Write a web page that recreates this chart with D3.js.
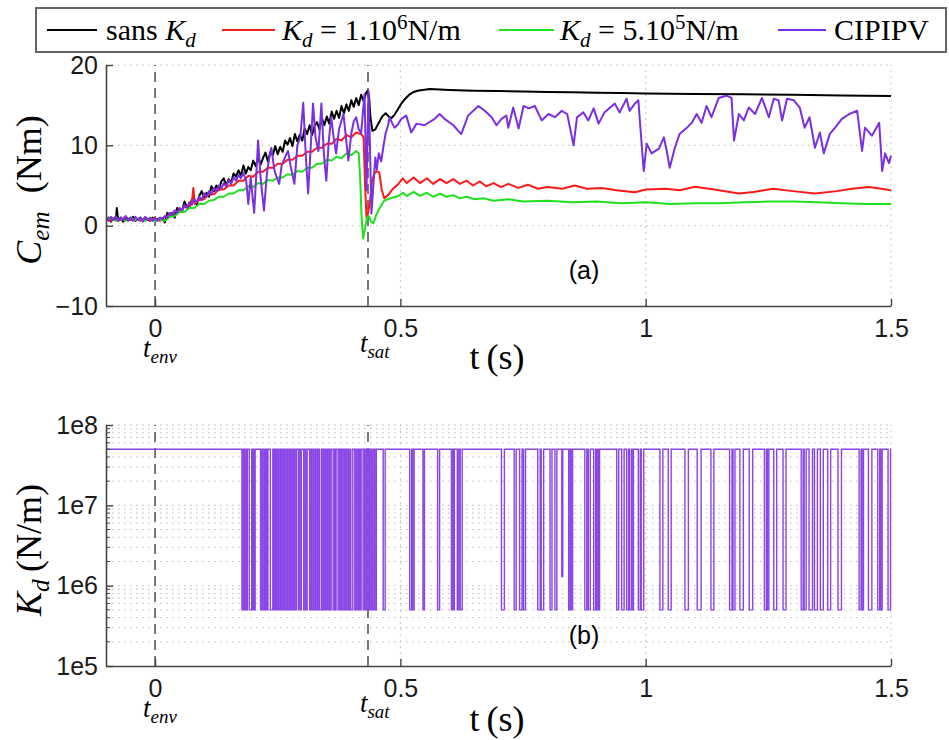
<!DOCTYPE html>
<html><head><meta charset="utf-8">
<script src="https://cdn.jsdelivr.net/npm/d3@7"></script>
<style>
body{margin:0;background:#fff;}
svg{display:block;}
</style></head>
<body>
<svg id="chart" width="949" height="740"></svg>
<script>
// ---------------- DATA ----------------
const xTicks = [0, 0.5, 1, 1.5];
const yTicksTop = [-10, 0, 10, 20];
const yTicksBot = [1e5, 1e6, 1e7, 1e8];
const tEnv = 0;
const tSat = 0.434;

// C_em (Nm) vs t (s)
const sansKd = [[-0.1,0.6],[-0.095,1.0],[-0.09,0.5],[-0.085,0.9],[-0.08,0.7],[-0.078,2.2],[-0.075,0.6],[-0.07,1.0],[-0.065,0.5],[-0.06,0.9],[-0.05,0.7],[-0.045,1.1],[-0.04,0.6],[-0.03,1.0],[-0.025,0.6],[-0.02,0.9],[-0.01,0.6],[-0.005,1.0],[0,0.7],[0.01,0.9],
[0.015,0.9],[0.02,0.4],[0.025,1.6],[0.03,1.1],[0.035,1.6],[0.04,1.0],[0.045,2.2],[0.05,2.0],[0.055,1.8],[0.06,3.0],[0.065,2.3],[0.07,2.25],[0.075,3.25],[0.08,3.2],[0.085,2.6],[0.09,3.7],[0.095,4.3],[0.1,3.5],[0.105,4.1],[0.11,3.6],[0.115,4.9],[0.12,4.3],[0.125,5.0],[0.13,4.4],[0.135,5.5],[0.14,5.9],[0.145,5.0],[0.15,5.8],[0.155,5.3],[0.16,6.5],[0.165,6.1],[0.17,6.9],[0.175,6.2],[0.18,7.5],[0.185,6.5],[0.19,7.3],[0.195,6.9],[0.2,8.1],[0.205,7.4],[0.21,8.5],[0.215,7.6],[0.22,8.4],[0.225,9.1],[0.23,8.0],[0.235,9.2],[0.24,8.8],[0.245,9.9],[0.25,8.9],[0.255,9.8],[0.26,9.2],[0.265,10.6],[0.27,10.1],[0.275,10.9],[0.28,9.9],[0.285,11.4],[0.29,10.5],[0.295,11.3],[0.3,10.6],[0.305,12.1],[0.31,11.4],[0.315,12.5],[0.32,11.3],[0.325,12.4],[0.33,12.9],[0.335,12.0],[0.34,13.4],[0.345,12.5],[0.35,13.6],[0.355,12.7],[0.36,14.2],[0.365,13.3],[0.37,14.3],[0.375,13.4],[0.38,14.9],[0.385,14.0],[0.39,15.1],[0.395,14.3],[0.4,15.6],[0.405,14.8],[0.41,15.9],[0.415,15.0],[0.42,16.3],[0.425,15.5],[0.43,16.5],[0.433,16.8],[0.436,16.2],[0.439,13.5],[0.443,11.8],[0.449,12.0],[0.456,12.8],[0.463,13.6],[0.47,14.0],[0.476,13.6],[0.482,13.4],[0.488,13.8],[0.495,14.5],[0.502,15.2],[0.51,15.8],[0.518,16.3],[0.526,16.6],[0.535,16.8],[0.545,16.9],[0.56,17.0],[0.58,16.95],[0.6,16.9],[0.65,16.8],[0.7,16.75],[0.75,16.7],[0.8,16.65],[0.85,16.6],[0.9,16.55],[0.95,16.5],[1.0,16.45],[1.1,16.4],[1.2,16.35],[1.3,16.3],[1.4,16.2],[1.5,16.15]];

const kd1e6 = [[-0.1,0.9],[-0.09,0.6],[-0.08,1.0],[-0.07,0.7],[-0.06,1.1],[-0.05,0.7],[-0.04,0.9],[-0.03,0.6],[-0.02,1.0],[-0.01,0.7],[0,0.9],[0.01,0.6],[0.02,1.1],[0.03,1.2],[0.04,1.7],[0.05,1.8],[0.06,2.3],[0.07,2.4],[0.075,2.8],[0.078,4.7],[0.081,2.7],[0.09,3.2],[0.1,3.3],[0.11,3.9],[0.12,3.9],[0.13,4.5],[0.14,4.5],[0.15,5.0],[0.16,5.0],[0.17,5.6],[0.18,5.6],[0.19,6.2],[0.2,6.1],[0.21,6.7],[0.22,6.7],[0.23,7.2],[0.24,7.2],[0.25,7.7],[0.26,7.7],[0.27,8.2],[0.28,8.2],[0.29,8.7],[0.3,8.7],[0.31,9.2],[0.32,9.2],[0.33,9.7],[0.34,9.7],[0.35,10.2],[0.36,10.2],[0.37,10.8],[0.38,10.6],[0.39,11.3],[0.4,11.0],[0.41,11.6],[0.42,11.4],[0.425,11.0],[0.428,5.0],[0.431,1.0],[0.434,1.5],[0.438,3.0],[0.442,5.5],[0.447,6.5],[0.452,6.8],[0.457,6.6],[0.462,4.5],[0.467,3.4],[0.475,3.8],[0.485,4.6],[0.496,5.2],[0.505,5.9],[0.513,5.3],[0.527,6.0],[0.54,5.3],[0.554,5.9],[0.567,5.2],[0.581,5.8],[0.594,5.3],[0.608,5.8],[0.621,5.2],[0.635,5.6],[0.648,5.0],[0.662,5.5],[0.675,4.9],[0.69,5.3],[0.705,4.8],[0.72,5.2],[0.74,4.7],[0.76,5.1],[0.78,4.6],[0.80,4.8],[0.83,4.6],[0.855,5.0],[0.88,4.6],[0.91,4.7],[0.94,4.4],[0.978,4.15],[1.0,4.5],[1.04,4.6],[1.07,4.4],[1.1,4.85],[1.14,4.5],[1.19,4.0],[1.22,4.2],[1.26,4.6],[1.3,4.3],[1.345,4.0],[1.39,4.3],[1.42,4.6],[1.455,4.8],[1.48,4.6],[1.5,4.4]];

const kd5e5 = [[-0.1,0.8],[-0.09,1.0],[-0.08,0.6],[-0.07,0.9],[-0.06,0.6],[-0.05,1.0],[-0.04,0.7],[-0.03,0.9],[-0.02,0.6],[-0.01,0.9],[0,0.6],[0.01,0.8],[0.02,0.6],[0.03,1.1],[0.04,1.2],[0.05,1.7],[0.06,1.7],[0.07,2.2],[0.08,2.2],[0.09,2.7],[0.1,2.7],[0.11,3.1],[0.12,3.2],[0.13,3.6],[0.14,3.6],[0.15,4.0],[0.16,4.0],[0.17,4.4],[0.18,4.4],[0.19,4.9],[0.2,4.8],[0.21,5.3],[0.22,5.2],[0.23,5.7],[0.24,5.6],[0.25,6.0],[0.26,6.0],[0.27,6.4],[0.28,6.3],[0.29,6.8],[0.3,6.7],[0.31,7.2],[0.32,7.2],[0.33,7.7],[0.34,7.7],[0.35,8.2],[0.36,8.1],[0.37,8.6],[0.38,8.4],[0.39,9.0],[0.4,8.8],[0.41,9.3],[0.415,9.0],[0.418,6.0],[0.421,1.0],[0.424,-1.6],[0.428,-0.3],[0.432,1.0],[0.436,1.2],[0.44,0.5],[0.445,0.3],[0.45,1.2],[0.456,2.0],[0.462,2.6],[0.467,3.1],[0.475,3.3],[0.485,3.5],[0.496,3.7],[0.505,4.1],[0.513,3.7],[0.527,4.2],[0.54,3.7],[0.554,4.1],[0.567,3.6],[0.581,4.0],[0.594,3.6],[0.608,3.8],[0.621,3.4],[0.635,3.6],[0.65,3.3],[0.67,3.4],[0.69,3.1],[0.72,3.3],[0.75,3.0],[0.8,3.1],[0.85,2.9],[0.9,3.0],[0.95,2.8],[1.0,2.9],[1.05,2.7],[1.1,2.8],[1.15,2.8],[1.2,2.9],[1.25,3.0],[1.3,3.0],[1.35,2.9],[1.4,2.8],[1.45,2.7],[1.5,2.7]];

const cipipv = [[-0.1,0.9],[-0.095,0.6],[-0.09,1.1],[-0.085,0.7],[-0.08,1.2],[-0.075,0.6],[-0.07,1.0],[-0.065,0.7],[-0.06,1.2],[-0.055,0.6],[-0.05,1.0],[-0.045,0.6],[-0.04,1.1],[-0.035,0.7],[-0.03,1.0],[-0.025,0.5],[-0.02,1.1],[-0.015,0.7],[-0.01,1.0],[-0.005,0.6],[0,0.9],[0.005,0.6],[0.01,1.0],[0.015,0.8],
[0.02,1.2],[0.025,1.0],[0.03,1.6],[0.035,1.3],[0.04,1.9],[0.045,1.6],[0.05,2.2],[0.055,1.9],[0.06,2.6],[0.065,2.2],[0.07,2.9],[0.075,2.6],[0.08,3.3],[0.085,2.9],[0.09,3.6],[0.095,3.2],[0.1,4.0],[0.105,3.6],[0.11,4.3],[0.115,3.9],[0.12,4.7],[0.125,4.3],[0.13,5.0],[0.135,4.6],[0.14,5.3],[0.145,4.9],[0.15,5.7],[0.155,5.2],[0.16,6.0],[0.165,5.6],[0.17,6.3],[0.175,5.9],[0.18,6.6],[0.186,5.5],[0.19,2.7],[0.195,6.0],[0.198,4.0],[0.202,1.6],[0.206,6.0],[0.21,10.6],[0.215,6.0],[0.222,1.9],[0.228,6.5],[0.233,8.5],[0.237,9.7],[0.243,7.0],[0.248,6.0],[0.253,5.2],[0.258,7.5],[0.265,8.5],[0.271,9.3],[0.276,7.5],[0.284,5.2],[0.29,10.0],[0.296,11.0],[0.302,15.3],[0.307,9.0],[0.312,4.0],[0.317,9.5],[0.322,15.2],[0.327,11.0],[0.333,9.3],[0.339,15.2],[0.344,9.0],[0.349,5.6],[0.354,10.5],[0.359,13.5],[0.364,11.0],[0.369,9.0],[0.375,12.0],[0.384,13.9],[0.389,11.0],[0.394,8.1],[0.4,11.5],[0.405,13.0],[0.41,13.5],[0.415,12.0],[0.42,11.5],[0.427,16.4],[0.431,4.4],[0.435,16.8],[0.438,10.0],[0.441,1.5],[0.446,6.0],[0.449,8.5],[0.452,7.0],[0.456,9.0],[0.461,8.0],[0.465,9.7],[0.47,11.5],[0.475,12.5],[0.478,13.5],[0.483,12.8],[0.488,12.2],[0.495,12.6],[0.502,13.3],[0.512,13.7],[0.522,11.6],[0.533,12.7],[0.549,12.5],[0.57,13.3],[0.58,13.9],[0.59,13.3],[0.608,12.5],[0.624,11.4],[0.638,13.7],[0.659,14.9],[0.672,14.3],[0.686,13.5],[0.696,12.5],[0.706,13.3],[0.716,13.7],[0.72,12.2],[0.73,14.7],[0.741,12.1],[0.751,14.9],[0.762,14.6],[0.774,14.9],[0.788,13.1],[0.802,13.9],[0.815,13.5],[0.829,14.3],[0.84,13.9],[0.853,10.0],[0.86,13.5],[0.873,14.1],[0.883,13.1],[0.894,14.6],[0.904,12.7],[0.916,14.1],[0.937,15.2],[0.947,14.1],[0.961,15.8],[0.967,14.3],[0.978,15.2],[0.985,15.6],[0.996,6.8],[1.002,10.2],[1.012,9.0],[1.027,9.6],[1.037,11.0],[1.043,9.3],[1.049,7.2],[1.059,9.6],[1.069,11.4],[1.084,12.2],[1.094,12.8],[1.104,13.9],[1.114,12.8],[1.124,14.9],[1.134,13.5],[1.149,15.9],[1.165,16.2],[1.175,15.9],[1.18,10.6],[1.19,13.9],[1.2,13.1],[1.21,14.7],[1.223,13.9],[1.237,15.9],[1.251,13.5],[1.261,15.8],[1.271,15.6],[1.278,13.1],[1.288,15.8],[1.302,15.6],[1.314,14.7],[1.324,12.2],[1.334,13.5],[1.345,9.7],[1.355,11.6],[1.363,9.0],[1.375,11.4],[1.386,12.2],[1.4,13.3],[1.415,13.9],[1.431,14.3],[1.441,9.3],[1.447,12.2],[1.461,11.2],[1.476,12.8],[1.482,6.8],[1.488,9.0],[1.496,7.8],[1.5,8.7]];

// K_d (N/m) of CIPIPV: high level, low level, and the intervals spent at the low level
const kdHigh = 5e7;
const kdLow = 5e5;
const kdPartialLow = 1.3e6;
const lowStart = [0.177,0.182,0.186,0.192,0.199,0.202,0.215,0.219,0.224,0.228,0.235,0.242,0.245,0.249,0.253,0.258,0.262,0.267,0.271,0.276,0.280,0.285,0.292,0.296,0.303,0.307,0.315,0.319,0.323,0.327,0.331,0.335,0.340,0.344,0.348,0.352,0.356,0.363,0.367,0.373,0.377,0.383,0.387,0.391,0.395,0.399,0.407,0.411,0.415,0.418,0.424,0.428,0.434,0.438,0.444,0.448,0.465,0.519,0.525,0.546,0.576,0.604,0.608,0.616,0.622,0.706,0.732,0.743,0.751,0.780,0.787,0.805,0.815,0.829,0.843,0.848,0.876,0.883,0.894,0.900,0.904,0.941,0.951,0.961,0.967,0.972,0.985,0.991,1.029,1.046,1.080,1.105,1.133,1.171,1.178,1.192,1.211,1.242,1.248,1.261,1.280,1.317,1.323,1.333,1.344,1.356,1.371,1.392,1.435,1.441,1.454,1.473,1.479,1.494];
const lowEnd   = [0.180,0.185,0.188,0.197,0.201,0.204,0.218,0.222,0.226,0.230,0.240,0.244,0.247,0.252,0.256,0.261,0.264,0.270,0.274,0.279,0.283,0.288,0.295,0.298,0.306,0.310,0.318,0.322,0.326,0.330,0.334,0.339,0.343,0.347,0.351,0.355,0.359,0.366,0.369,0.376,0.380,0.386,0.390,0.394,0.398,0.403,0.410,0.414,0.417,0.420,0.427,0.431,0.437,0.441,0.447,0.451,0.469,0.523,0.528,0.549,0.580,0.607,0.610,0.619,0.626,0.712,0.736,0.748,0.755,0.785,0.792,0.809,0.819,0.831,0.846,0.851,0.880,0.887,0.898,0.903,0.906,0.945,0.956,0.965,0.971,0.975,0.989,0.996,1.035,1.052,1.087,1.113,1.139,1.176,1.182,1.199,1.218,1.246,1.251,1.267,1.286,1.321,1.327,1.340,1.350,1.362,1.377,1.399,1.439,1.444,1.461,1.477,1.482,1.499];
const partialIndex = [73]; // the pulse at t=0.829 only drops to kdPartialLow

// ---------------- DRAWING ----------------
const svg = d3.select("#chart");
const serif = "'Liberation Serif','DejaVu Serif',serif";
const sans = "'Liberation Sans',Arial,sans-serif";

const x = d3.scaleLinear().domain([-0.1, 1.5]).range([106, 891]);
const yTop = d3.scaleLinear().domain([-10, 20]).range([306, 65]);
const yBot = d3.scaleLog().domain([1e5, 1e8]).range([666, 425]);

const gridStyle = sel => sel.attr("stroke", "#b8b8b8").attr("stroke-width", 1).attr("stroke-dasharray", "1.5,4.5").attr("fill", "none");

function panel(y, yTickVals, minorY) {
  const g = svg.append("g");
  const [y0, y1] = y.range();
  const grid = g.append("g");
  if (minorY) {
    grid.selectAll("line.mn").data(minorY).join("line")
      .attr("x1", x.range()[0]).attr("x2", x.range()[1])
      .attr("y1", d => y(d)).attr("y2", d => y(d)).call(gridStyle);
  }
  grid.selectAll("line.hy").data(yTickVals.slice(1)).join("line")
    .attr("x1", x.range()[0]).attr("x2", x.range()[1])
    .attr("y1", d => y(d)).attr("y2", d => y(d)).call(gridStyle);
  grid.selectAll("line.vx").data(xTicks.slice(1)).join("line")
    .attr("x1", d => x(d)).attr("x2", d => x(d))
    .attr("y1", y0).attr("y2", y1).call(gridStyle);
  g.selectAll("line.ev").data([tEnv, tSat]).join("line")
    .attr("x1", d => x(d)).attr("x2", d => x(d))
    .attr("y1", y0).attr("y2", y1)
    .attr("stroke", "#333").attr("stroke-width", 1.3).attr("stroke-dasharray", "10,6");
  return g;
}

function styleAxis(g) {
  g.select(".domain").attr("stroke", "#444").attr("stroke-width", 1.6);
  g.selectAll(".tick line").attr("stroke", "#444").attr("stroke-width", 1.4);
  g.selectAll(".tick text").attr("font-family", sans).attr("font-size", 25).attr("fill", "#1a1a1a");
}

function drawAxes(y, yTickVals, yFmt, minorTicks) {
  const [y0] = y.range();
  const ax = svg.append("g").attr("transform", `translate(0,${y0})`)
    .call(d3.axisBottom(x).tickValues(xTicks).tickFormat(d3.format("")).tickSizeInner(-7).tickSizeOuter(0).tickPadding(13));
  styleAxis(ax);
  const ay = svg.append("g").attr("transform", `translate(${x.range()[0]},0)`)
    .call(d3.axisLeft(y).tickValues(yTickVals).tickFormat(yFmt).tickSizeInner(-7).tickSizeOuter(0).tickPadding(8));
  styleAxis(ay);
  if (minorTicks) {
    ay.selectAll("line.minor").data(minorTicks).join("line")
      .attr("x1", 0).attr("x2", 4).attr("y1", d => y(d)).attr("y2", d => y(d))
      .attr("stroke", "#444").attr("stroke-width", 1);
  }
}

// math-ish text helper: parts = [text, style] where style: "r" roman, "i" italic, "sub", "sup", "subi"
function mtext(parent, px, py, size, parts, opts = {}) {
  const t = parent.append("text").attr("x", px).attr("y", py)
    .attr("font-family", serif).attr("font-size", size).attr("fill", "#000");
  if (opts.anchor) t.attr("text-anchor", opts.anchor);
  if (opts.transform) t.attr("transform", opts.transform);
  let shift = 0;
  parts.forEach(([s, st]) => {
    const ts = t.append("tspan").text(s);
    let target = 0, fs = size;
    if (st === "sub" || st === "subi") { target = size * 0.22; fs = size * 0.7; }
    if (st === "sup") { target = -size * 0.38; fs = size * 0.7; }
    ts.attr("dy", target - shift).attr("font-size", fs);
    shift = target;
    if (st === "i" || st === "subi") ts.attr("font-style", "italic");
  });
  return t;
}

// ---------- top panel ----------
panel(yTop, yTicksTop, null);
svg.append("clipPath").attr("id", "clipTop").append("rect")
  .attr("x", x.range()[0]).attr("y", 60).attr("width", x.range()[1] - x.range()[0] + 2).attr("height", 250);
const lineTop = d3.line().x(d => x(d[0])).y(d => yTop(d[1]));
const series = [
  {data: sansKd, color: "#000000"},
  {data: kd1e6, color: "#ff1a1a"},
  {data: kd5e5, color: "#1ee01e"},
  {data: cipipv, color: "#7a2fe0"}
];
const gl = svg.append("g").attr("clip-path", "url(#clipTop)");
gl.selectAll("path").data(series).join("path")
  .attr("d", d => lineTop(d.data)).attr("fill", "none")
  .attr("stroke", d => d.color).attr("stroke-width", 2).attr("stroke-linejoin", "round");
drawAxes(yTop, yTicksTop, d3.format("d"), null);

// ---------- bottom panel ----------
const minorLog = [];
[1e5, 1e6, 1e7].forEach(dec => { for (let k = 2; k <= 9; k++) minorLog.push(dec * k); });
panel(yBot, yTicksBot, minorLog);
const kdPts = [[-0.1, kdHigh]];
lowStart.forEach((a, i) => {
  const low = partialIndex.includes(i) ? kdPartialLow : kdLow;
  kdPts.push([a, kdHigh], [a, low], [lowEnd[i], low], [lowEnd[i], kdHigh]);
});
kdPts.push([1.5, kdHigh]);
svg.append("path").attr("d", d3.line().x(d => x(d[0])).y(d => yBot(d[1]))(kdPts))
  .attr("fill", "none").attr("stroke", "#8a45e6").attr("stroke-width", 1.4);
drawAxes(yBot, yTicksBot, d => "1e" + Math.round(Math.log10(d)), minorLog);

// ---------- texts ----------
[[357, 369], [717, 731]].forEach(([tb, lb]) => {
  mtext(svg, x(tEnv) - 12, tb, 27, [["t", "i"], ["env", "subi"]]);
  mtext(svg, x(tSat) - 8, tb - 5, 27, [["t", "i"], ["sat", "subi"]]);
  mtext(svg, 497, lb, 36, [["t", "r"], ["\u2009(s)", "r"]], {anchor: "middle"});
});
svg.append("text").attr("x", 584).attr("y", 279).attr("text-anchor", "middle")
  .attr("font-family", sans).attr("font-size", 25).text("(a)");
svg.append("text").attr("x", 584).attr("y", 644).attr("text-anchor", "middle")
  .attr("font-family", sans).attr("font-size", 25).text("(b)");

mtext(svg, 0, 0, 36, [["C", "i"], ["em", "subi"], ["\u2002(Nm)", "r"]],
  {anchor: "middle", transform: "translate(41,190) rotate(-90)"});
mtext(svg, 0, 0, 36, [["K", "i"], ["d", "subi"], ["\u2009(N/m)", "r"]],
  {anchor: "middle", transform: "translate(41,550) rotate(-90)"});

// ---------- legend ----------
const lg = svg.append("g");
lg.append("rect").attr("x", 36).attr("y", 8).attr("width", 910).attr("height", 44)
  .attr("fill", "#fff").attr("stroke", "#666").attr("stroke-width", 2);
const legendItems = [
  {color: "#000000", x0: 47, x1: 97, tx: 106, parts: [["sans ", "r"], ["K", "i"], ["d", "subi"]]},
  {color: "#ff1a1a", x0: 222, x1: 275, tx: 282, parts: [["K", "i"], ["d", "subi"], [" = 1.10", "r"], ["6", "sup"], ["N/m", "r"]]},
  {color: "#1ee01e", x0: 499, x1: 554, tx: 560, parts: [["K", "i"], ["d", "subi"], [" = 5.10", "r"], ["5", "sup"], ["N/m", "r"]]},
  {color: "#7a2fe0", x0: 778, x1: 826, tx: 834, parts: [["CIPIPV", "r"]]}
];
legendItems.forEach(it => {
  lg.append("line").attr("x1", it.x0).attr("x2", it.x1).attr("y1", 30).attr("y2", 30)
    .attr("stroke", it.color).attr("stroke-width", 2);
  mtext(lg, it.tx, 40, 30, it.parts);
});
</script>
</body></html>
